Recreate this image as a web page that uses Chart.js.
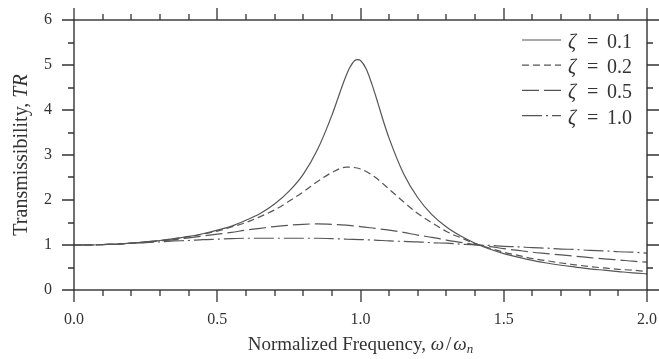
<!DOCTYPE html>
<html>
<head>
<meta charset="utf-8">
<script src="https://cdn.jsdelivr.net/npm/chart.js@4"></script>
<style>
  body { margin: 0; background: #fff; }
  #wrap { width: 659px; height: 359px; }
</style>
</head>
<body>
<div id="wrap"><canvas id="myChart" width="659" height="359"></canvas></div>
<script>
// frequency ratio w/wn, fine steps near resonance for the lightly damped curve
var freqFine = [0, 0.05, 0.1, 0.15, 0.2, 0.25, 0.3, 0.35, 0.4, 0.45, 0.5, 0.55, 0.6, 0.65, 0.7, 0.75, 0.8, 0.85, 0.9,
  0.92, 0.94, 0.96, 0.98, 0.99, 1.0, 1.02, 1.04, 1.06, 1.08, 1.1, 1.15, 1.2, 1.25, 1.3, 1.35, 1.4, 1.45, 1.5,
  1.55, 1.6, 1.65, 1.7, 1.75, 1.8, 1.85, 1.9, 1.95, 2.0];
var freq = [0, 0.05, 0.1, 0.15, 0.2, 0.25, 0.3, 0.35, 0.4, 0.45, 0.5, 0.55, 0.6, 0.65, 0.7, 0.75, 0.8, 0.85, 0.9, 0.95,
  1.0, 1.05, 1.1, 1.15, 1.2, 1.25, 1.3, 1.35, 1.4, 1.45, 1.5, 1.55, 1.6, 1.65, 1.7, 1.75, 1.8, 1.85, 1.9, 1.95, 2.0];

var zetaLabels = ['0.1', '0.2', '0.5', '1.0'];

// transmissibility
var tr01 = [1.00, 1.00, 1.01, 1.02, 1.04, 1.07, 1.10, 1.14, 1.19, 1.25, 1.33, 1.42, 1.55, 1.70, 1.91, 2.19, 2.57, 3.12, 3.88,
  4.24, 4.60, 4.91, 5.10, 5.12, 5.10, 4.91, 4.57, 4.17, 3.75, 3.37, 2.59, 2.05, 1.67, 1.40, 1.20, 1.04, 0.91, 0.81,
  0.73, 0.66, 0.60, 0.55, 0.51, 0.47, 0.44, 0.41, 0.38, 0.36];
var tr02 = [1.00, 1.00, 1.01, 1.02, 1.04, 1.07, 1.10, 1.14, 1.18, 1.24, 1.31, 1.40, 1.50, 1.63, 1.78, 1.97, 2.18, 2.41, 2.61, 2.73,
  2.69, 2.51, 2.24, 1.96, 1.70, 1.49, 1.30, 1.16, 1.03, 0.93, 0.84, 0.77, 0.70, 0.65, 0.60, 0.56, 0.52, 0.49, 0.46, 0.44, 0.41];
var tr05 = [1.00, 1.00, 1.01, 1.02, 1.04, 1.06, 1.09, 1.12, 1.16, 1.20, 1.24, 1.28, 1.33, 1.37, 1.41, 1.44, 1.46, 1.47, 1.46, 1.44,
  1.41, 1.37, 1.33, 1.28, 1.22, 1.17, 1.11, 1.06, 1.01, 0.97, 0.92, 0.88, 0.84, 0.81, 0.78, 0.75, 0.72, 0.69, 0.67, 0.64, 0.62];
var tr10 = [1.00, 1.00, 1.01, 1.02, 1.04, 1.05, 1.07, 1.09, 1.10, 1.12, 1.13, 1.14, 1.15, 1.15, 1.15, 1.15, 1.15, 1.15, 1.14, 1.13,
  1.12, 1.11, 1.09, 1.08, 1.07, 1.05, 1.04, 1.02, 1.00, 0.99, 0.97, 0.96, 0.94, 0.93, 0.91, 0.90, 0.88, 0.87, 0.85, 0.84, 0.82];

function pts(xs, ys) {
  return xs.map(function (v, i) { return { x: v, y: ys[i] }; });
}

var serif = '"Liberation Serif", "DejaVu Serif", serif';
var ink = '#333';
var curve = '#555';

// draws a run of [text, font] pieces starting at x, returns end x
function drawRun(c, parts, x, y) {
  parts.forEach(function (p) {
    c.font = p[1];
    c.fillText(p[0], x + (p[2] || 0), y);
    x += c.measureText(p[0]).width + (p[2] || 0) + (p[3] || 0);
  });
  return x;
}
function runWidth(c, parts) {
  var w = 0;
  parts.forEach(function (p) { c.font = p[1]; w += c.measureText(p[0]).width + (p[2] || 0) + (p[3] || 0); });
  return w;
}

// frame, outward ticks on all four sides, axis titles and legend
var framePlugin = {
  id: 'frame',
  afterDraw: function (chart) {
    var ctx = chart.ctx;
    var a = chart.chartArea;
    var xs = chart.scales.x;
    var ys = chart.scales.y;
    ctx.save();
    ctx.strokeStyle = ink;
    ctx.lineWidth = 1.4;
    ctx.setLineDash([]);
    ctx.strokeRect(a.left, a.top, a.right - a.left, a.bottom - a.top);

    ctx.lineWidth = 1.3;
    ctx.beginPath();
    xs.ticks.forEach(function (t) {
      var px = Math.round(xs.getPixelForValue(t.value));
      var major = Math.abs(t.value * 2 - Math.round(t.value * 2)) < 1e-6;
      var len = major ? 12 : 6;
      ctx.moveTo(px, a.bottom); ctx.lineTo(px, a.bottom + len);
      ctx.moveTo(px, a.top); ctx.lineTo(px, a.top - len);
    });
    ys.ticks.forEach(function (t) {
      var py = Math.round(ys.getPixelForValue(t.value));
      var major = Math.abs(t.value - Math.round(t.value)) < 1e-6;
      var len = major ? 12 : 6;
      ctx.moveTo(a.left, py); ctx.lineTo(a.left - len, py);
      ctx.moveTo(a.right, py); ctx.lineTo(a.right + len, py);
    });
    ctx.stroke();

    // x title
    ctx.fillStyle = ink;
    ctx.textBaseline = 'alphabetic';
    var xparts = [
      ['Normalized Frequency, ', '19px ' + serif],
      ['\u03c9', 'italic 19px ' + serif],
      ['/', '19px ' + serif, 2, 2],
      ['\u03c9', 'italic 19px ' + serif]
    ];
    ctx.font = 'italic 13px ' + serif;
    var subW = ctx.measureText('n').width;
    var x0 = (a.left + a.right) / 2 - (runWidth(ctx, xparts) + subW) / 2;
    x0 = drawRun(ctx, xparts, x0, 350);
    ctx.font = 'italic 13px ' + serif;
    ctx.fillText('n', x0, 353);

    // y title, rotated
    ctx.save();
    ctx.translate(27, (a.top + a.bottom) / 2);
    ctx.rotate(-Math.PI / 2);
    var yparts = [['Transmissibility, ', '20px ' + serif], ['TR', 'italic 20px ' + serif]];
    drawRun(ctx, yparts, -runWidth(ctx, yparts) / 2, 0);
    ctx.restore();

    // legend
    chart.data.datasets.forEach(function (ds, i) {
      var ly = a.top + 20 + i * 25.2;
      ctx.strokeStyle = ds.borderColor;
      ctx.lineWidth = ds.borderWidth;
      ctx.setLineDash(ds.borderDash || []);
      ctx.beginPath();
      ctx.moveTo(a.right - 125, ly);
      ctx.lineTo(a.right - 86, ly);
      ctx.stroke();
      ctx.setLineDash([]);
      ctx.fillStyle = ink;
      ctx.textBaseline = 'alphabetic';
      ctx.font = 'italic 20px ' + serif;
      ctx.fillText('\u03b6', a.right - 79, ly + 8);
      ctx.font = '20px ' + serif;
      ctx.fillText('=', a.right - 60, ly + 8);
      ctx.fillText(zetaLabels[i], a.right - 40, ly + 8);
    });
    ctx.restore();
  }
};

const ctx = document.getElementById('myChart');

const chart = new Chart(ctx, {
  type: 'line',
  data: {
    datasets: [
      { label: '\u03b6 = ' + zetaLabels[0], data: pts(freqFine, tr01), borderDash: [] },
      { label: '\u03b6 = ' + zetaLabels[1], data: pts(freq, tr02), borderDash: [7, 4] },
      { label: '\u03b6 = ' + zetaLabels[2], data: pts(freq, tr05), borderDash: [17, 5] },
      { label: '\u03b6 = ' + zetaLabels[3], data: pts(freq, tr10), borderDash: [20, 4, 2, 4] }
    ].map(function (d) {
      d.borderColor = curve;
      d.borderWidth = 1.2;
      d.pointRadius = 0;
      d.fill = false;
      d.cubicInterpolationMode = 'monotone';
      return d;
    })
  },
  options: {
    responsive: false,
    animation: false,
    layout: { padding: { top: 20, right: 12, left: 0, bottom: 0 } },
    plugins: { legend: { display: false }, tooltip: { enabled: false } },
    scales: {
      x: {
        type: 'linear',
        min: 0, max: 2,
        afterFit: function (s) { s.height = 69; s.paddingLeft = 0; s.paddingRight = 0; },
        border: { display: false },
        grid: { drawOnChartArea: false, drawTicks: false },
        ticks: {
          stepSize: 0.1,
          autoSkip: false,
          maxRotation: 0,
          padding: 20,
          color: ink,
          font: { family: serif, size: 16 },
          callback: function (v) {
            var r = Math.round(v * 10) / 10;
            return Math.abs(r * 2 - Math.round(r * 2)) < 1e-6 ? r.toFixed(1) : '';
          }
        }
      },
      y: {
        min: 0, max: 6,
        afterFit: function (s) { s.width = 74; s.paddingTop = 0; s.paddingBottom = 0; },
        border: { display: false },
        grid: { drawOnChartArea: false, drawTicks: false },
        ticks: {
          stepSize: 0.5,
          autoSkip: false,
          padding: 22,
          color: ink,
          font: { family: serif, size: 16 },
          callback: function (v) { return Number.isInteger(v) ? String(v) : ''; }
        }
      }
    }
  },
  plugins: [framePlugin]
});
</script>
</body>
</html>
